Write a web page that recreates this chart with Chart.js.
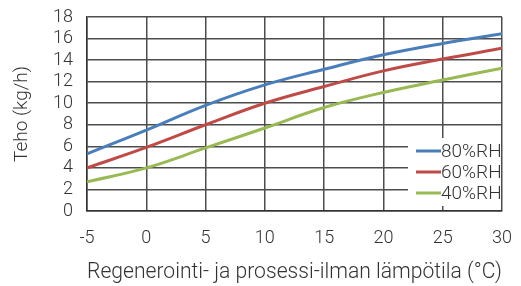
<!DOCTYPE html>
<html>
<head>
<meta charset="utf-8">
<script src="https://cdn.jsdelivr.net/npm/chart.js@4/dist/chart.umd.min.js"></script>
<style>
  html, body { margin: 0; padding: 0; background: #fff; }
  #wrap { width: 521px; height: 286px; }
</style>
</head>
<body>
<div id="wrap"><canvas id="chart"></canvas></div>
<script>
// lämpötila (°C)
const temps = [-5, 0, 5, 10, 15, 20, 25, 30];
// teho (kg/h)
const rh80 = [5.3, 7.5, 9.8, 11.7, 13.15, 14.5, 15.55, 16.45];
const rh60 = [4.0, 5.9, 8.0, 10.0, 11.55, 13.0, 14.1, 15.1];
const rh40 = [2.7, 4.0, 5.85, 7.7, 9.6, 11.0, 12.15, 13.25];
const seriesNames = ['80%RH', '60%RH', '40%RH'];
const seriesColors = ['#4a7ebb', '#be4b48', '#98b954'];

const font = "Roboto";
const textColor = '#333';

function toPoints(vals) {
    return vals.map((v, i) => ({ x: temps[i], y: v }));
}

// legend drawn inside the plot area, bottom right, over the grid
const insideLegend = {
    id: 'insideLegend',
    afterDatasetsDraw(chart) {
        const ctx = chart.ctx;
        const area = chart.chartArea;
        const boxLeft = area.right - 94;
        const boxTop = area.bottom - 73;
        ctx.save();
        ctx.fillStyle = '#fff';
        ctx.fillRect(boxLeft, boxTop, 93, 68);
        ctx.font = '300 19px ' + font;
        ctx.textBaseline = 'middle';
        chart.data.datasets.forEach((ds, i) => {
            const y = boxTop + 13 + i * 21;
            ctx.strokeStyle = ds.borderColor;
            ctx.lineWidth = 3;
            ctx.beginPath();
            ctx.moveTo(boxLeft + 8, y);
            ctx.lineTo(boxLeft + 33, y);
            ctx.stroke();
            ctx.fillStyle = textColor;
            ctx.fillText(ds.label, boxLeft + 33, y + 1);
        });
        ctx.restore();
    }
};

// no extra room for the edge tick labels, layout padding decides
function noEdgePadding(scale) {
    scale.paddingLeft = 0;
    scale.paddingRight = 0;
    scale.paddingTop = 0;
    scale.paddingBottom = 0;
}

let ctx1 = document.querySelector("#chart");

let graph = new Chart(ctx1, {
    type: "line",
    data: {
        datasets: [
            { label: seriesNames[0], data: toPoints(rh80), borderColor: seriesColors[0] },
            { label: seriesNames[1], data: toPoints(rh60), borderColor: seriesColors[1] },
            { label: seriesNames[2], data: toPoints(rh40), borderColor: seriesColors[2] }
        ]
    },
    options: {
        responsive: true,
        maintainAspectRatio: false,
        animation: false,
        devicePixelRatio: 1,
        layout: {
            padding: { top: 17, right: 19, left: 0, bottom: 0 }
        },
        elements: {
            point: { radius: 0 },
            line: { borderWidth: 3, tension: 0.4, fill: false }
        },
        scales: {
            x: {
                type: 'linear',
                min: -5,
                max: 30,
                ticks: { stepSize: 5, autoSkip: false, maxRotation: 0, padding: 17, color: textColor, font: { family: font, size: 18, weight: 300 } },
                grid: { color: '#4d4d4d', lineWidth: 1.5, drawTicks: false },
                border: { color: '#333', width: 1.5 },
                title: {
                    display: true,
                    text: 'Regenerointi- ja prosessi-ilman lämpötila (°C)',
                    color: textColor,
                    font: { family: font, size: 21.5, weight: 300 },
                    padding: { top: 0, bottom: 0 }
                },
                afterFit(scale) { scale.height = 75; noEdgePadding(scale); }
            },
            y: {
                min: 0,
                max: 18,
                ticks: { stepSize: 2, autoSkip: false, padding: 14, color: textColor, font: { family: font, size: 18, weight: 300 } },
                grid: { color: '#4d4d4d', lineWidth: 1.5, drawTicks: false },
                border: { color: '#333', width: 1.5 },
                title: {
                    display: true,
                    text: 'Teho (kg/h)',
                    color: textColor,
                    font: { family: font, size: 19, weight: 300 },
                    padding: { top: 11, bottom: 0 }
                },
                afterFit(scale) { scale.width = 87; noEdgePadding(scale); }
            }
        },
        plugins: {
            legend: { display: false },
            tooltip: { enabled: false }
        }
    },
    plugins: [insideLegend]
});
</script>
</body>
</html>
